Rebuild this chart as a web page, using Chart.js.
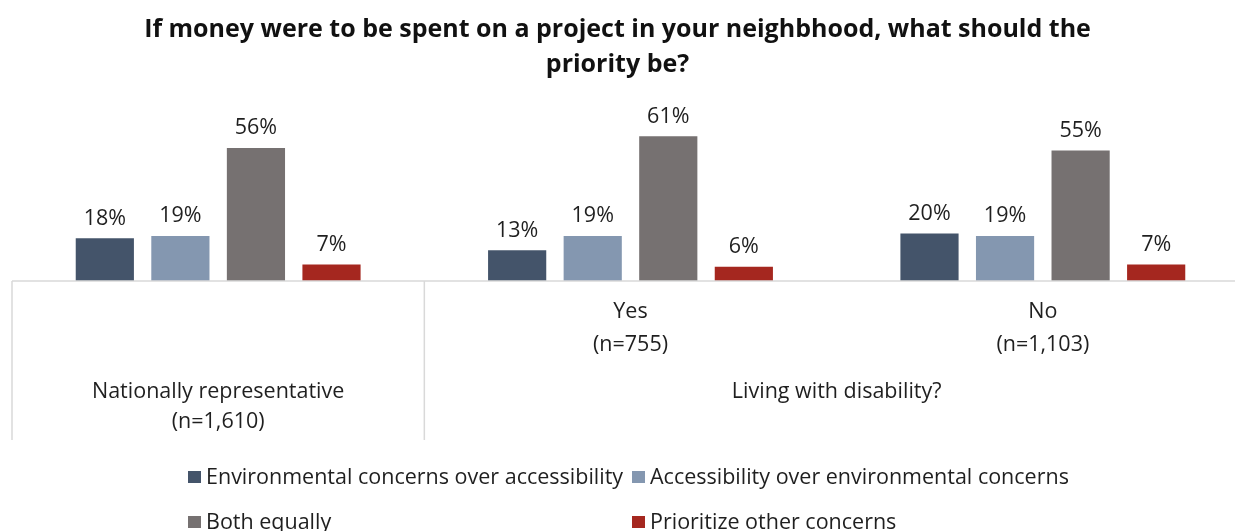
<!DOCTYPE html>
<html>
<head>
<meta charset="utf-8">
<script src="https://cdn.jsdelivr.net/npm/chart.js@4/dist/chart.umd.min.js"></script>
<style>
    html, body {
        margin: 0;
        padding: 0;
        background: #fff;
    }
    .frame {
        position: relative;
        width: 1235px;
        height: 531px;
        overflow: hidden;
        font-family: "Open Sans", Lato, sans-serif;
        color: #1f1f1f;
    }
    .chart-box {
        position: absolute;
        left: 0;
        top: 0;
        width: 1250px;
        height: 531px;
    }
    .title {
        position: absolute;
        left: 0;
        top: 10px;
        width: 1235px;
        text-align: center;
        font-weight: bold;
        font-size: 25px;
        line-height: 35px;
        color: #111;
    }
    .legend-item {
        position: absolute;
        font-size: 21.5px;
        line-height: 24px;
        white-space: nowrap;
    }
    .legend-item i {
        display: inline-block;
        width: 13px;
        height: 12px;
        margin-right: 5px;
        vertical-align: 1px;
    }
</style>
</head>
<body>
<div class="frame">
    <div class="chart-box"><canvas class="priority-chart"></canvas></div>
    <div class="title">If money were to be spent on a project in your neighbhood, what should the<br>priority be?</div>
    <div class="legend"></div>
</div>
<script>
const subgroups = [["Nationally representative", "(n=1,610)"], ["Yes", "(n=755)"], ["No", "(n=1,103)"]];
const groupLabel = "Living with disability?";
const seriesNames = [
    "Environmental concerns over accessibility",
    "Accessibility over environmental concerns",
    "Both equally",
    "Prioritize other concerns",
];
const envFirst = [18, 13, 20];
const accessFirst = [19, 19, 19];
const bothEqually = [56, 61, 55];
const otherConcerns = [7, 6, 7];
const colors = ["#44546A", "#8497B0", "#767171", "#A5271F"];

const seriesValues = [envFirst, accessFirst, bothEqually, otherConcerns];
const textColor = "#1f1f1f";
const lineColor = "#D9D9D9";
const labelFont = "21.5px 'Open Sans', Lato, sans-serif";

// bar values printed above each bar
const valueLabels = {
    id: "valueLabels",
    afterDatasetsDraw(chart) {
        const ctx = chart.ctx;
        ctx.save();
        ctx.font = labelFont;
        ctx.fillStyle = textColor;
        ctx.textAlign = "center";
        ctx.textBaseline = "bottom";
        chart.data.datasets.forEach((ds, i) => {
            chart.getDatasetMeta(i).data.forEach((bar, j) => {
                ctx.fillText(ds.data[j] + "%", bar.x, bar.y - 9);
            });
        });
        ctx.restore();
    },
};

// two-level category axis: baseline, dividers and labels
const groupedAxis = {
    id: "groupedAxis",
    afterDraw(chart) {
        const ctx = chart.ctx;
        const x = chart.scales.x;
        const area = chart.chartArea;
        const base = chart.scales.y.getPixelForValue(0);
        const pos = subgroups.map((_, i) => x.getPixelForValue(i));
        const split = (pos[0] + pos[1]) / 2;
        ctx.save();
        ctx.strokeStyle = lineColor;
        ctx.lineWidth = 1.5;
        ctx.beginPath();
        ctx.moveTo(area.left, base);
        ctx.lineTo(area.right, base);
        ctx.moveTo(area.left, base);
        ctx.lineTo(area.left, base + 159);
        ctx.moveTo(split, base);
        ctx.lineTo(split, base + 159);
        ctx.stroke();

        ctx.font = labelFont;
        ctx.fillStyle = textColor;
        ctx.textAlign = "center";
        ctx.textBaseline = "middle";
        // first category spans both levels
        ctx.fillText(subgroups[0][0], pos[0], base + 111);
        ctx.fillText(subgroups[0][1], pos[0], base + 141);
        for (let i = 1; i < subgroups.length; i++) {
            ctx.fillText(subgroups[i][0], pos[i], base + 31);
            ctx.fillText(subgroups[i][1], pos[i], base + 64);
        }
        ctx.fillText(groupLabel, (pos[1] + pos[2]) / 2, base + 111);
        ctx.restore();
    },
};

new Chart(document.querySelector(".priority-chart"), {
    type: "bar",
    data: {
        labels: subgroups.map((s) => s.join(" ")),
        datasets: seriesNames.map((name, i) => ({
            label: name,
            data: seriesValues[i],
            backgroundColor: colors[i],
            borderWidth: 0,
            categoryPercentage: 0.733,
            barPercentage: 0.77,
        })),
    },
    options: {
        responsive: true,
        maintainAspectRatio: false,
        animation: false,
        layout: {
            padding: { top: 91, bottom: 250, left: 12, right: 1 },
        },
        scales: {
            x: { display: false },
            y: { display: false, min: 0, max: 80 },
        },
        plugins: {
            legend: { display: false },
            tooltip: { enabled: false },
        },
    },
    plugins: [valueLabels, groupedAxis],
});

// legend laid out in two fixed columns
const legendSpots = [[188, 464], [632, 464], [188, 509], [632, 509]];
const legend = document.querySelector(".legend");
seriesNames.forEach((name, i) => {
    const item = document.createElement("div");
    item.className = "legend-item";
    item.style.left = legendSpots[i][0] + "px";
    item.style.top = legendSpots[i][1] + "px";
    item.innerHTML = '<i style="background:' + colors[i] + '"></i>' + name;
    legend.appendChild(item);
});
</script>
</body>
</html>
